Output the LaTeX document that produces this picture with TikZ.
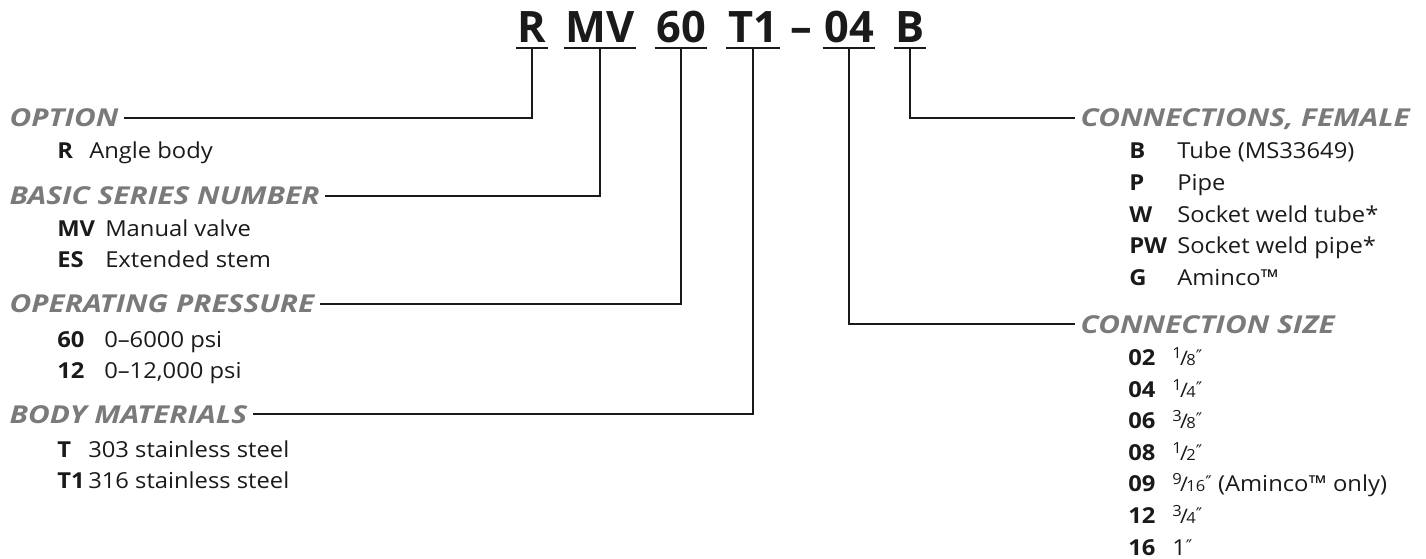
\documentclass[tikz,border=0pt]{standalone}
\usepackage{fontspec}
\setmainfont[FakeStretch=1.08]{Open Sans}
\newfontfamily\titlefont[Ligatures=TeX]{Open Sans}
\newfontfamily\headfont[FakeStretch=1.21]{Open Sans}
\newfontfamily\symfont{DejaVu Sans}
\usetikzlibrary{positioning}
\definecolor{headgray}{HTML}{7A7A7A}
\definecolor{inkblack}{HTML}{1A1A1A}
\newcommand{\frc}[2]{\raisebox{0.55ex}{\fontsize{11.5}{11}\selectfont #1}\kern-1.2pt{\fontsize{15}{15}\selectfont /}\kern-1.2pt{\fontsize{11.5}{11}\selectfont #2}}
\newcommand{\inch}{\raisebox{0.25ex}{\symfont\fontsize{13}{13}\selectfont ″}}

\begin{document}
\begin{tikzpicture}[
    x=0.75pt, y=-0.75pt,
    titlecode/.style={font=\titlefont\fontsize{32.5}{36}\selectfont\bfseries, text=inkblack, inner xsep=1pt, inner ysep=3.5pt, text depth=0pt, anchor=base},
    heading/.style={font=\headfont\fontsize{18.5}{22}\selectfont\bfseries\itshape, text=headgray, inner xsep=4pt, inner ysep=0pt, text height=13.3pt, text depth=0pt, anchor=base west},
    entry/.style={font=\fontsize{16.5}{20}\selectfont, text=inkblack, inner sep=0pt, anchor=base west},
    entrykey/.style={entry, font=\fontsize{16.5}{20}\selectfont\bfseries},
    lead/.style={line width=1.1pt, inkblack},
    uline/.style={line width=1.3pt, inkblack},
]
    \useasboundingbox (0,0) rectangle (1426,559);

    % part number
    \node[titlecode] (cr) at (532,43) {R};
    \node[titlecode] (cmv) at (600,43) {MV};
    \node[titlecode] (cpr) at (681,43) {60};
    \node[titlecode] (cmat) at (753,43) {T1};
    \node[titlecode] (dash) at (801,43) {–};
    \node[titlecode] (csize) at (849,43) {04};
    \node[titlecode] (cconn) at (910,43) {B};
    \foreach \c in {cr,cmv,cpr,cmat,csize,cconn}
        \draw[uline] (\c.south west) -- (\c.south east);

    % headings
    \node[heading] (opt) at (4,127) {OPTION};
    \node[heading] (series) at (4,205) {BASIC SERIES NUMBER};
    \node[heading] (press) at (4,313) {OPERATING PRESSURE};
    \node[heading] (mat) at (4,423) {BODY MATERIALS};
    \node[heading] (conn) at (1075,127) {CONNECTIONS, FEMALE};
    \node[heading] (size) at (1075,333) {CONNECTION SIZE};

    \draw[lead] (cr.south) |- (opt.east);
    \draw[lead] (cmv.south) |- (series.east);
    \draw[lead] (cpr.south) |- (press.east);
    \draw[lead] (cmat.south) |- (mat.east);
    \draw[lead] (cconn.south) |- (conn.west);
    \draw[lead] (csize.south) |- (size.west);

    % left lists
    \node[entrykey] (kr) at (57,159) {R};
    \node[entry] (dr) at (89,159) {Angle body};
    \node[entrykey] (kmv) at (57,237) {MV};
    \node[entry] (dmv) at (105,237) {Manual valve};
    \node[entrykey] (kes) at (57,268) {ES};
    \node[entry] (des) at (105,268) {Extended stem};
    \node[entrykey] (k60) at (57,347) {60};
    \node[entry] (d60) at (104,347) {0--6000 psi};
    \node[entrykey] (k12) at (57,378) {12};
    \node[entry] (d12) at (104,378) {0--12,000 psi};
    \node[entrykey] (kt) at (57,457) {T};
    \node[entry] (dt) at (88,457) {303 stainless steel};
    \node[entrykey] (kt1) at (57,488) {T1};
    \node[entry] (dt1) at (88,488) {316 stainless steel};

    % right lists
    \foreach \k/\d/\y [count=\i] in {B/Tube (MS33649)/159, P/Pipe/191, W/Socket weld tube*/223, PW/Socket weld pipe*/254, G/Aminco\texttrademark/286} {
        \node[entrykey] (kc\i) at (1129,\y) {\k};
        \node[entry] (dc\i) at (1177,\y) {\d};
    }
    \foreach \k/\d/\y [count=\i] in {02/{\frc18\inch}/365, 04/{\frc14\inch}/397, 06/{\frc38\inch}/428, 08/{\frc12\inch}/460, 09/{\frc9{16}\inch\ (Aminco\texttrademark\ only)}/491, 12/{\frc34\inch}/523, 16/{1\inch}/555} {
        \node[entrykey] (ks\i) at (1128,\y) {\k};
        \node[entry] (ds\i) at (1172,\y) {\d};
    }
\end{tikzpicture}
\end{document}
